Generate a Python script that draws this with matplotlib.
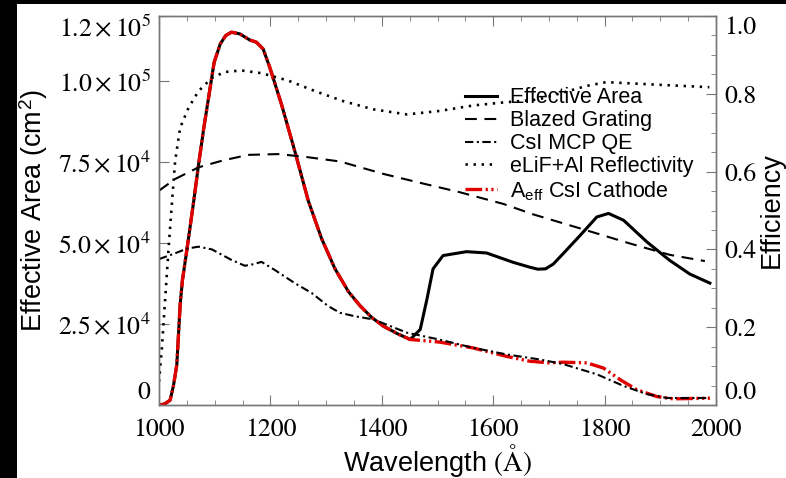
import matplotlib
matplotlib.use('Agg')
import matplotlib.pyplot as plt
from matplotlib.patches import Rectangle
from matplotlib.ticker import FixedLocator, MultipleLocator, FixedFormatter

plt.rcParams['mathtext.fontset'] = 'stix'
plt.rcParams['lines.scale_dashes'] = False

# ---------------- data ----------------
# Effective area (cm^2) vs wavelength (Angstrom)
wl_aeff = [1000, 1010, 1020, 1026, 1032, 1038, 1042, 1050, 1062, 1071, 1080, 1089,
           1099, 1110, 1120, 1130, 1145, 1163, 1175, 1187, 1199, 1220, 1244, 1268,
           1292, 1316, 1340, 1361, 1382, 1403, 1428, 1451, 1469, 1481, 1492, 1510,
           1552, 1588, 1636, 1666, 1680, 1694, 1708, 1730, 1756, 1786, 1807, 1834,
           1876, 1917, 1953, 1989]
aeff = [0, 300, 1500, 6000, 12500, 31000, 38400, 47800, 62500, 74100, 85000, 94800,
        105700, 111400, 114000, 115000, 114500, 112600, 111900, 109800, 104100, 92700,
        78200, 63000, 51300, 42000, 35000, 30600, 27000, 24300, 22000, 20200, 23300,
        32600, 42000, 46100, 47300, 46900, 44000, 42500, 41900, 42000, 43500, 47500,
        52300, 58000, 59100, 57000, 50300, 44600, 40400, 37600]

# A_eff with CsI cathode: identical to effective area up to 1451 A, then:
wl_cath_tail = [1480, 1504, 1564, 1624, 1666, 1700, 1726, 1768, 1798, 1828, 1858,
                1894, 1923, 1989]
aeff_cath_tail = [19800, 19400, 17600, 15000, 13500, 13000, 13200, 13000, 11400,
                  7800, 4700, 2600, 1900, 2100]

# CsI MCP QE (efficiency)
wl_qe = [1000, 1029, 1050, 1071, 1095, 1130, 1154, 1170, 1184, 1208, 1244, 1274,
         1304, 1325, 1352, 1385, 1445, 1504, 1564, 1624, 1684, 1726, 1786, 1834,
         1876, 1912, 1989]
qe = [0.375, 0.390, 0.402, 0.407, 0.400, 0.373, 0.358, 0.362, 0.368, 0.347, 0.313,
      0.288, 0.254, 0.237, 0.228, 0.220, 0.186, 0.168, 0.147, 0.130, 0.117, 0.105,
      0.079, 0.049, 0.028, 0.018, 0.018]

# Blazed grating efficiency
wl_grat = [1000, 1029, 1071, 1113, 1160, 1214, 1262, 1325, 1403, 1475, 1540, 1618,
           1672, 1756, 1846, 1917, 1980]
grating = [0.551, 0.581, 0.611, 0.628, 0.643, 0.645, 0.638, 0.626, 0.594, 0.569,
           0.547, 0.517, 0.490, 0.454, 0.415, 0.386, 0.370]

# eLiF+Al reflectivity
wl_refl = [1000, 1005, 1011, 1017, 1023, 1029, 1038, 1053, 1071, 1095, 1118, 1148,
           1184, 1232, 1280, 1331, 1385, 1445, 1504, 1564, 1620, 1680, 1730, 1767,
           1803, 1886, 1988]
refl = [0.06, 0.143, 0.271, 0.398, 0.515, 0.628, 0.713, 0.764, 0.807, 0.841, 0.856,
        0.860, 0.853, 0.834, 0.807, 0.781, 0.760, 0.747, 0.756, 0.770, 0.778, 0.785,
        0.805, 0.820, 0.830, 0.824, 0.817]

x_major = [1000, 1200, 1400, 1600, 1800, 2000]
x_labels = ['1000', '1200', '1400', '1600', '1800', '2000']
yl_ticks = [0, 25000, 50000, 75000, 100000, 120000]
yl_labels = ['0', r'$2.5\times10^4$', r'$5.0\times10^4$', r'$7.5\times10^4$',
             r'$1.0\times10^5$', r'$1.2\times10^5$']
yr_ticks = [0.0, 0.2, 0.4, 0.6, 0.8, 1.0]
yr_labels = ['0.0', '0.2', '0.4', '0.6', '0.8', '1.0']

labels = ['Effective Area', 'Blazed Grating', 'CsI MCP QE', 'eLiF+Al Reflectivity',
          r'A$_{\mathregular{eff}}$ CsI Cathode']

# ---------------- figure ----------------
fig = plt.figure(figsize=(7.86, 4.78), dpi=100)
fig.patch.set_facecolor('black')
fig.patches.append(Rectangle((17 / 786, 0), 1, 1 - 4 / 478, transform=fig.transFigure,
                             facecolor='white', edgecolor='none', zorder=-10))

ax = fig.add_axes([159 / 786, 1 - 405 / 478, (716 - 159) / 786, (405 - 16) / 478])
ax2 = ax.twinx()

spine_col = '#777777'

wl_cath = [w for w in wl_aeff if w <= 1451] + wl_cath_tail
aeff_cath = [a for w, a in zip(wl_aeff, aeff) if w <= 1451] + aeff_cath_tail

l_aeff, = ax.plot(wl_aeff, aeff, color='black', lw=2.2, solid_joinstyle='round')
l_cath, = ax.plot(wl_cath, aeff_cath, color='#e00000', lw=2.4,
                  dashes=(12, 2.5, 1.6, 2.5, 1.6, 2.5))
l_grat, = ax2.plot(wl_grat, grating, color='black', lw=1.5, dashes=(8.5, 5.5))
l_qe, = ax2.plot(wl_qe, qe, color='black', lw=1.5, dashes=(6, 2.5, 1.5, 2.5))
l_refl, = ax2.plot(wl_refl, refl, color='black', lw=1.9, dashes=(1.7, 4.1))

ax.set_xlim(1000, 2000)
ax.set_ylim(0, 120000)
ax2.set_ylim(0, 1.0)

ax.xaxis.set_major_locator(FixedLocator(x_major))
ax.xaxis.set_major_formatter(FixedFormatter(x_labels))
ax.xaxis.set_minor_locator(MultipleLocator(50))
ax.yaxis.set_major_locator(FixedLocator(yl_ticks))
ax.yaxis.set_major_formatter(FixedFormatter(yl_labels))
ax2.yaxis.set_major_locator(FixedLocator(yr_ticks))
ax2.yaxis.set_major_formatter(FixedFormatter(yr_labels))
ax2.yaxis.set_minor_locator(MultipleLocator(0.05))

ax.tick_params(axis='x', which='both', direction='in', top=True, bottom=True,
               color=spine_col, pad=9)
ax.tick_params(axis='x', which='major', length=7)
ax.tick_params(axis='x', which='minor', length=3.5)
ax.tick_params(axis='y', which='both', direction='in', left=True, right=False,
               color=spine_col, length=7, pad=6)
ax2.tick_params(axis='y', which='both', direction='in', right=True, left=False,
                color=spine_col, pad=6)
ax2.tick_params(axis='y', which='major', length=7)
ax2.tick_params(axis='y', which='minor', length=3.5)

for a in (ax, ax2):
    for s in a.spines.values():
        s.set_color(spine_col)
        s.set_linewidth(1.0)

for lab in ax.get_xticklabels() + ax.get_yticklabels() + ax2.get_yticklabels():
    lab.set_fontfamily('STIXGeneral')
    lab.set_fontsize(18.5)

# keep the end labels inside the axis range like the original
yl = ax.get_yticklabels()
yl[0].set_verticalalignment('bottom')
yl[-1].set_verticalalignment('top')
yr = ax2.get_yticklabels()
yr[0].set_verticalalignment('bottom')
yr[-1].set_verticalalignment('top')

label_font = dict(family='Liberation Sans', size=19.5)
ax.set_xlabel(r'Wavelength $(\mathrm{\AA})$', **label_font)
ax.xaxis.set_label_coords(0.5, -0.094)
ax.xaxis.label.set_verticalalignment('top')
ax.set_ylabel(r'Effective Area (cm$^{\mathregular{2}}$)', **label_font)
ax.yaxis.set_label_coords(-0.1957, 0.5)
ax2.set_ylabel('Efficiency', **label_font)
ax2.yaxis.set_label_coords(1.077, 0.5)

leg = ax2.legend([l_aeff, l_grat, l_qe, l_refl, l_cath], labels,
                 loc='upper left', bbox_to_anchor=(0.549, 0.817), frameon=False,
                 borderpad=0, borderaxespad=0, handlelength=1.48, handletextpad=0.6,
                 labelspacing=0.09, prop=dict(family='Liberation Sans', size=15.5))

fig.savefig('out.png', dpi=100, facecolor=fig.get_facecolor())
